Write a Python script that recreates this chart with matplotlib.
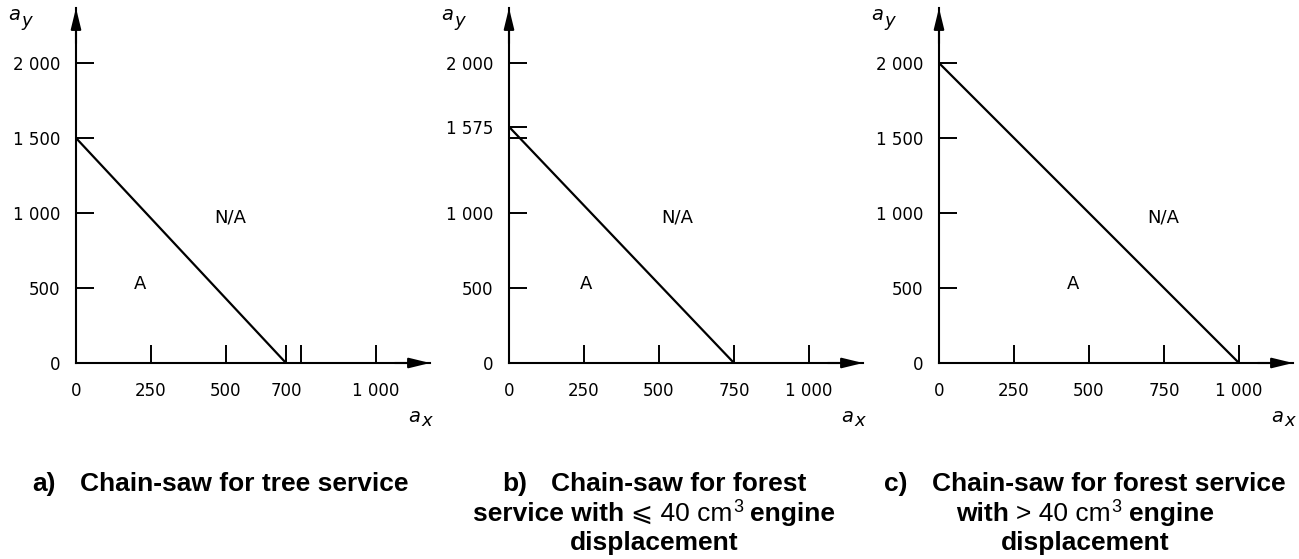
import matplotlib
matplotlib.use("Agg")
import matplotlib.pyplot as plt
from matplotlib.transforms import IdentityTransform

W, H = 1299, 559

# boundary between acceptable (A) and not acceptable (N/A)
boundary_ay = [1500, 1575, 2000]
boundary_ax = [700, 750, 1000]

x_ticks = [
    [0, 250, 500, 700, 750, 1000],
    [0, 250, 500, 750, 1000],
    [0, 250, 500, 750, 1000],
]
x_tick_labels = [
    ["0", "250", "500", "700", "", "1 000"],
    ["0", "250", "500", "750", "1 000"],
    ["0", "250", "500", "750", "1 000"],
]
y_ticks = [
    [0, 500, 1000, 1500, 2000],
    [0, 500, 1000, 1500, 1575, 2000],
    [0, 500, 1000, 1500, 2000],
]
y_tick_labels = [
    ["0", "500", "1 000", "1 500", "2 000"],
    ["0", "500", "1 000", "", "1 575", "2 000"],
    ["0", "500", "1 000", "1 500", "2 000"],
]
label_A = [(213, 527), (257, 527), (447, 527)]
label_NA = [(513, 967), (560, 967), (747, 967)]

# captions: list of lines, each line a list of (text, bold, superscript)
captions = [
    [[("a)", True, False), ("Chain-saw for tree service", True, False)]],
    [
        [("b)", True, False), ("Chain-saw for forest", True, False)],
        [("service with", True, False), ("\u2a7d 40 cm", False, False),
         ("3", False, True), ("engine", True, False)],
        [("displacement", True, False)],
    ],
    [
        [("c)", True, False), ("Chain-saw for forest service", True, False)],
        [("with", True, False), ("> 40 cm", False, False),
         ("3", False, True), ("engine", True, False)],
        [("displacement", True, False)],
    ],
]

origins_x = [76, 509, 939]
origin_y = 363
ax_w, ax_h = 354, 355
x_max = ax_w * 250 / 75
y_max = ax_h * 500 / 75
caption_cx = [220, 654, 1085]
caption_base = [491, 521, 550]

TICK_FONT = ["DejaVu Sans"]
CAP_FONT = ["Liberation Sans", "DejaVu Sans"]

fig = plt.figure(figsize=(W / 100, H / 100), dpi=100)


def fig_px(x, y_top):
    return x / W, (H - y_top) / H


def rich_line(cx, base, segs, size=19):
    r = fig.canvas.get_renderer()
    items = []
    for text, bold, sup in segs:
        fs = size * 0.68 if sup else size
        rise = 9 if sup else 0
        t = fig.text(0, H - base + rise, text, transform=IdentityTransform(),
                     fontsize=fs, fontweight="bold" if bold else "normal",
                     family=CAP_FONT, ha="left", va="baseline")
        items.append((t, t.get_window_extent(r).width, sup))
    gaps = []
    for i in range(len(items) - 1):
        if items[i][0].get_text().endswith(")"):
            gaps.append(24)
        elif items[i + 1][2]:
            gaps.append(1)
        else:
            gaps.append(7)
    total = sum(w for _, w, _ in items) + sum(gaps)
    x = cx - total / 2
    for i, (t, w, _) in enumerate(items):
        t.set_x(x)
        x += w + (gaps[i] if i < len(gaps) else 0)


for i in range(3):
    ox = origins_x[i]
    l, b = fig_px(ox, origin_y)
    ax = fig.add_axes([l, b, ax_w / W, ax_h / H])
    ax.set_xlim(0, x_max)
    ax.set_ylim(0, y_max)
    ax.patch.set_visible(False)
    for s in ["top", "right"]:
        ax.spines[s].set_visible(False)
    for s in ["left", "bottom"]:
        ax.spines[s].set_linewidth(1.5)

    ax.plot([0, boundary_ax[i]], [boundary_ay[i], 0], color="k", lw=1.6,
            solid_capstyle="butt", clip_on=False)

    ax.set_xticks(x_ticks[i])
    ax.set_xticklabels(x_tick_labels[i], family=TICK_FONT)
    ax.set_yticks(y_ticks[i])
    ax.set_yticklabels(y_tick_labels[i], family=TICK_FONT)
    ax.tick_params(direction="in", length=13, width=1.4, labelsize=12,
                   colors="k")
    ax.tick_params(axis="x", pad=14)
    ax.tick_params(axis="y", pad=11)

    ax.annotate("", xy=(1, 0), xytext=(0.9, 0), xycoords="axes fraction",
                arrowprops=dict(arrowstyle="-|>,head_length=0.9,head_width=0.22",
                                color="k", lw=1.5, shrinkA=0, shrinkB=0,
                                mutation_scale=14),
                annotation_clip=False)
    ax.annotate("", xy=(0, 1), xytext=(0, 0.9), xycoords="axes fraction",
                arrowprops=dict(arrowstyle="-|>,head_length=0.9,head_width=0.22",
                                color="k", lw=1.5, shrinkA=0, shrinkB=0,
                                mutation_scale=14),
                annotation_clip=False)

    ax.text(*label_A[i], "A", fontsize=13, family=TICK_FONT, ha="center", va="center")
    ax.text(*label_NA[i], "N/A", fontsize=13, family=TICK_FONT, ha="center", va="center")

    # axis names a_y and a_x
    fig.text(*fig_px(ox - 68, 20), "a", fontsize=14, style="italic",
             family=TICK_FONT, ha="left", va="baseline")
    fig.text(*fig_px(ox - 55, 26), "y", fontsize=13, style="italic",
             family=TICK_FONT, ha="left", va="baseline")
    fig.text(*fig_px(ox + ax_w - 22, 422), "a", fontsize=14, style="italic",
             family=TICK_FONT, ha="left", va="baseline")
    fig.text(*fig_px(ox + ax_w - 9, 426), "x", fontsize=13, style="italic",
             family=TICK_FONT, ha="left", va="baseline")

    for j, segs in enumerate(captions[i]):
        rich_line(caption_cx[i], caption_base[j], segs)

fig.savefig("out.png", dpi=100)
